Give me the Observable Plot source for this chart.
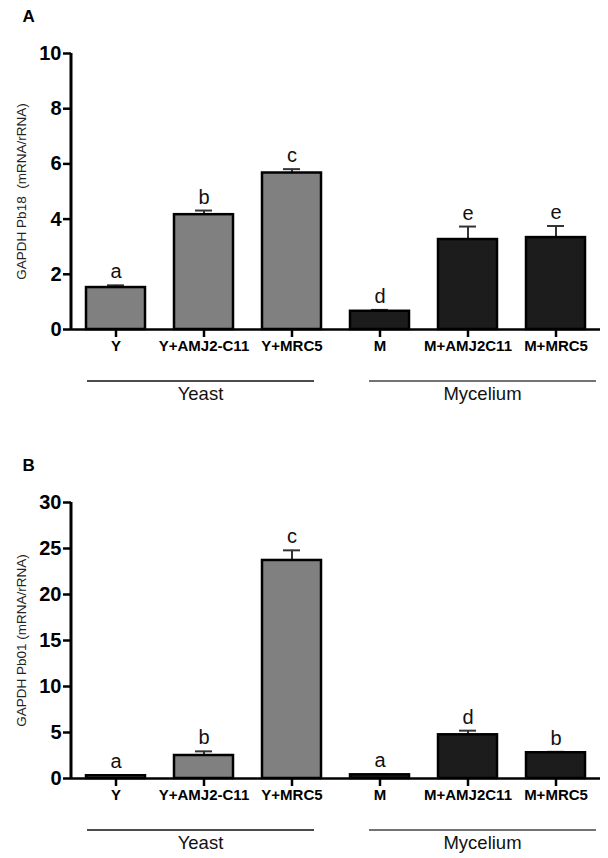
<!DOCTYPE html>
<html>
<head>
<meta charset="utf-8">
<script src="https://cdn.jsdelivr.net/npm/d3@7"></script>
<script src="https://cdn.jsdelivr.net/npm/@observablehq/plot@0.6"></script>
<style>
  html, body { margin: 0; padding: 0; background: #fff; }
  svg { display: block; }
</style>
</head>
<body>
<div id="chart"></div>
<script>
const categories = ["Y", "Y+AMJ2-C11", "Y+MRC5", "M", "M+AMJ2C11", "M+MRC5"];
const groups = ["Yeast", "Yeast", "Yeast", "Mycelium", "Mycelium", "Mycelium"];
const groupNames = ["Yeast", "Mycelium"];

const valuesA = [1.52, 4.16, 5.67, 0.66, 3.26, 3.33];
const errorsA = [0.08, 0.15, 0.14, 0.05, 0.47, 0.42];
const lettersA = ["a", "b", "c", "d", "e", "e"];
const ticksA = [0, 2, 4, 6, 8, 10];

const valuesB = [0.3, 2.5, 23.7, 0.4, 4.75, 2.8];
const errorsB = [0.05, 0.45, 1.1, 0.05, 0.45, 0.1];
const lettersB = ["a", "b", "c", "a", "d", "b"];
const ticksB = [0, 5, 10, 15, 20, 25, 30];

const FONT = "'Liberation Sans', Arial, Helvetica, sans-serif";
const groupFill = {Yeast: "#808080", Mycelium: "#1c1c1c"};
const groupLineColor = {Yeast: "#111", Mycelium: "#444"};
const groupShift = {Yeast: -3, Mycelium: 15};

function panel({label, ylabel, values, errors, letters, ticks, height, marginBottom}) {
  const ymax = ticks[ticks.length - 1];
  const data = categories.map((c, i) => ({
    cat: c, group: groups[i], value: values[i], err: errors[i], letter: letters[i]
  }));
  const decorations = (index, scales, vals, dims) => {
    const x = scales.x, y = scales.y;
    const bw = x.bandwidth ? x.bandwidth() : 0;
    const g = d3.create("svg:g");
    g.append("line")
      .attr("x1", dims.marginLeft).attr("x2", dims.marginLeft)
      .attr("y1", y(0) + 1).attr("y2", y(ymax))
      .attr("stroke", "#000").attr("stroke-width", 3);
    for (const gname of groupNames) {
      const cats = categories.filter((c, i) => groups[i] === gname);
      const x1 = x(cats[0]) + 4 + groupShift[gname];
      const x2 = x(cats[cats.length - 1]) + bw - 4 + groupShift[gname];
      g.append("line")
        .attr("x1", x1).attr("x2", x2)
        .attr("y1", y(0) + 52).attr("y2", y(0) + 52)
        .attr("stroke", groupLineColor[gname]).attr("stroke-width", 1.3);
      g.append("text")
        .attr("x", (x1 + x2) / 2).attr("y", y(0) + 71)
        .attr("text-anchor", "middle")
        .attr("font-size", 18.5)
        .attr("fill", "#111")
        .text(gname);
    }
    return g.node();
  };
  return Plot.plot({
    width: 608,
    height,
    marginTop: 53,
    marginBottom,
    marginLeft: 71,
    marginRight: 8,
    style: {fontFamily: FONT, color: "#000", background: "#fff"},
    x: {domain: categories, paddingInner: 0.334, paddingOuter: 0.152, label: null},
    y: {domain: [0, ymax], label: null},
    marks: [
      Plot.ruleX(data, {x: "cat", y1: "value", y2: d => d.value + d.err, stroke: "#333", strokeWidth: 2}),
      Plot.tickY(data, {x: "cat", y: d => d.value + d.err, stroke: "#333", strokeWidth: 2, insetLeft: 21, insetRight: 21}),
      Plot.barY(data, {x: "cat", y: "value", fill: d => groupFill[d.group], stroke: "#000", strokeWidth: 2.5}),
      Plot.ruleY([0], {stroke: "#000", strokeWidth: 2.5}),
      Plot.text(data, {x: "cat", y: d => d.value + d.err, text: "letter", dy: -7, lineAnchor: "bottom", fontSize: 20, fill: "#111"}),
      Plot.axisY({ticks, tickSize: 8, tickPadding: 2, fontSize: 20, fontWeight: "bold", strokeWidth: 2.5, label: null, tickFormat: d3.format("d")}),
      Plot.axisX({tickSize: 8, tickPadding: 3, fontSize: 15, fontWeight: "bold", strokeWidth: 2.5, label: null}),
      decorations,
      Plot.text([ylabel], {frameAnchor: "left", rotate: -90, dx: -50, fontSize: 13.5, lineAnchor: "middle", textAnchor: "middle", fill: "#222"}),
      Plot.text([label], {frameAnchor: "top-left", dx: -49, dy: -32, fontSize: 17, fontWeight: "bold", textAnchor: "start", lineAnchor: "bottom"})
    ]
  });
}

const root = document.getElementById("chart");
root.appendChild(panel({
  label: "A", ylabel: "GAPDH Pb18  (mRNA/rRNA)",
  values: valuesA, errors: errorsA, letters: lettersA, ticks: ticksA,
  height: 449, marginBottom: 120
}));
root.appendChild(panel({
  label: "B", ylabel: "GAPDH Pb01 (mRNA/rRNA)",
  values: valuesB, errors: errorsB, letters: lettersB, ticks: ticksB,
  height: 409, marginBottom: 80
}));
</script>
</body>
</html>
